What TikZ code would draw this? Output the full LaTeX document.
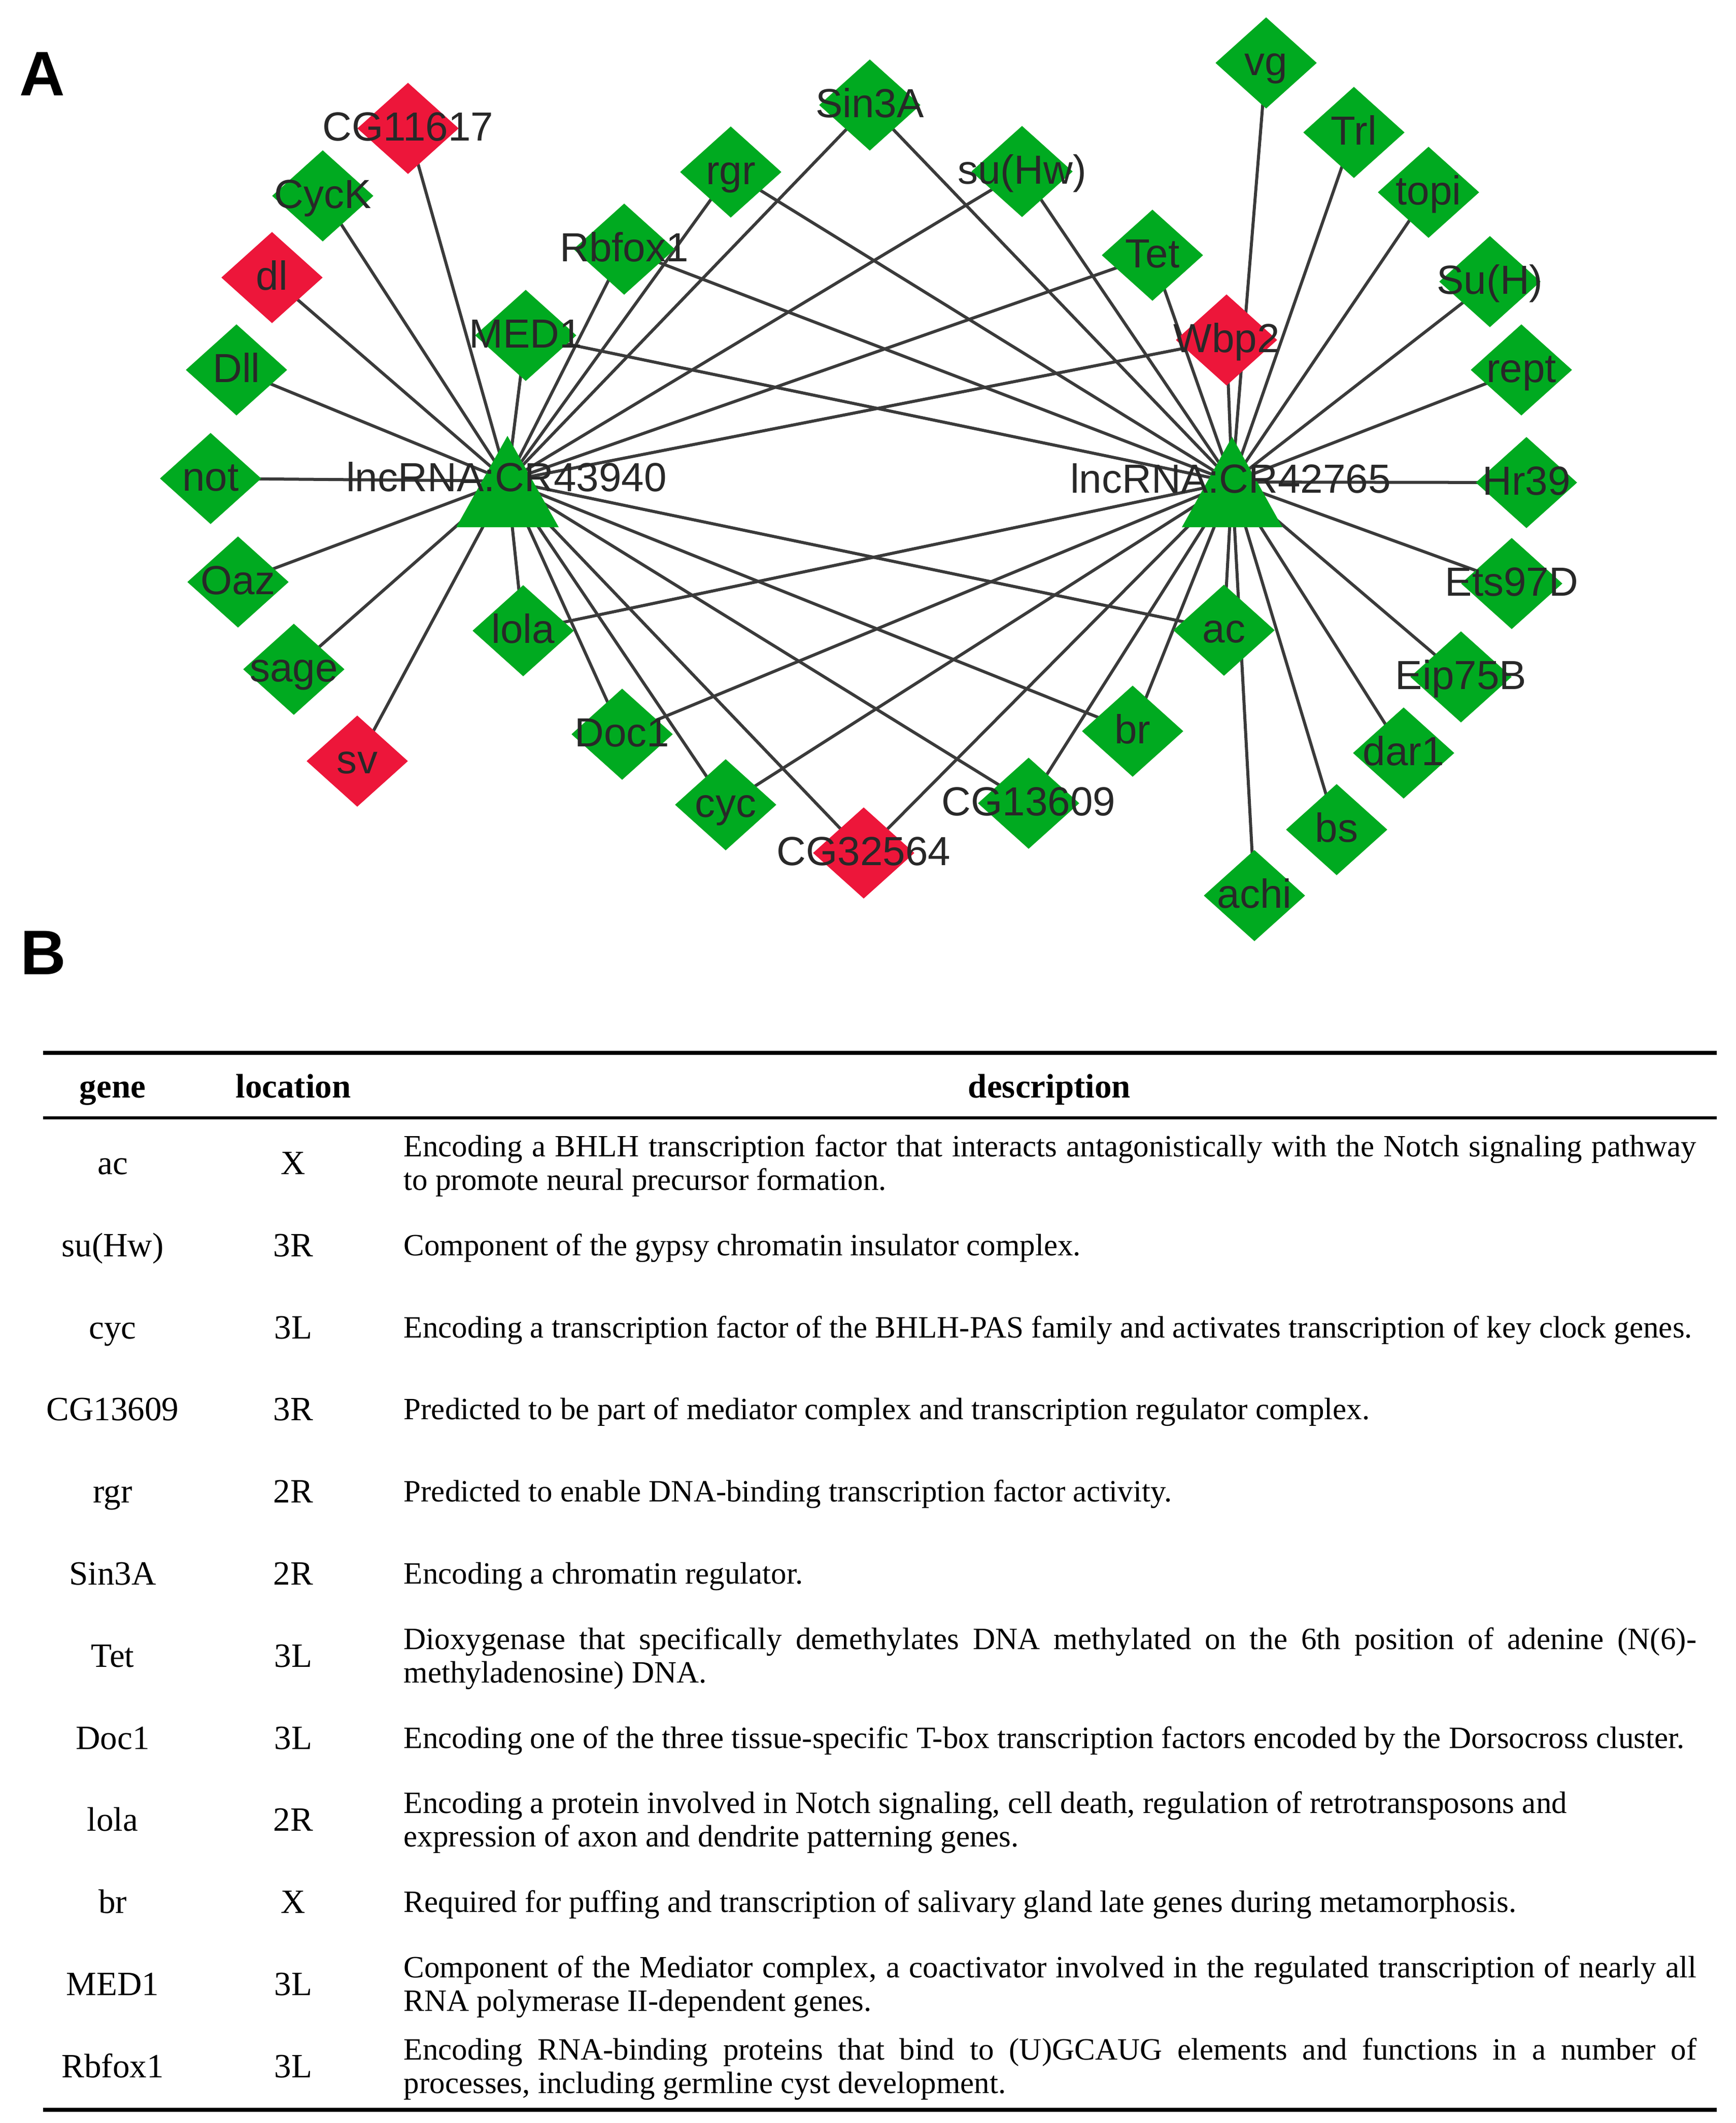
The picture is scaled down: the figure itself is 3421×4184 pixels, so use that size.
\documentclass[tikz,border=0pt]{standalone}
\usepackage{fontspec}
\setmainfont{Liberation Serif}
\newfontfamily\arialf{Liberation Sans}
\usetikzlibrary{shapes.geometric,backgrounds}
\definecolor{ngreen}{RGB}{0,170,32}
\definecolor{nred}{RGB}{237,22,58}
\definecolor{edgec}{RGB}{58,58,58}
\definecolor{labc}{RGB}{40,40,40}
\tikzset{
  gd/.style={diamond, fill=ngreen, draw=none, minimum width=2cm, minimum height=1.8cm, inner sep=0pt},
  rd/.style={gd, fill=nred},
  lab/.style={font=\arialf\fontsize{22.76}{27}\selectfont, text=labc, inner sep=0pt, text height=0.68cm, text depth=0.2cm},
  edge/.style={draw=edgec, line width=0.06cm},
  panel/.style={font=\arialf\bfseries\fontsize{35.3}{40}\selectfont, inner sep=0pt, anchor=base west, text=black},
  hd/.style={font=\bfseries\fontsize{19.06}{23}\selectfont, inner sep=0pt, anchor=base},
  gc/.style={font=\fontsize{19.06}{23}\selectfont, inner sep=0pt, anchor=base},
  dc/.style={font=\fontsize{17.36}{21}\selectfont, inner sep=0pt, anchor=base west},
  rule/.style={draw=black}
}
\newcommand\jline[1]{\makebox[25.46cm][s]{#1}}
\begin{document}
\begin{tikzpicture}[x=0.01cm, y=-0.01cm]
\useasboundingbox (0,0) rectangle (3421,4184);
% panel labels
\node[panel] (pA) at (38,188) {A};
\node[panel] (pB) at (40,1920) {B};
% network nodes
\foreach \nm/\x/\y/\st in {CGa/804/253/rd, CycK/636/386/gd, dl/536/547/rd, Dll/466/729/gd, not/415/943/gd, Oaz/469/1147/gd, sage/579/1319/gd, sv/704/1500/rd, MED/1036/661/gd, Rbf/1230/491/gd, rgr/1440/339/gd, Sin/1714/207/gd, suHw/2014/338/gd, Tet/2271/503/gd, Wbp/2417/670/rd, vg/2495/124/gd, Trl/2668/261/gd, topi/2815/379/gd, SuH/2936/555/gd, rept/2998/729/gd, Hr/3008/951/gd, Ets/2979/1150/gd, Eip/2879/1334/gd, dar/2766/1484/gd, bs/2634/1635/gd, achi/2472/1765/gd, ac/2412/1242/gd, br/2232/1441/gd, CGb/2027/1583/gd, CGc/1702/1681/rd, cyc/1430/1586/gd, Doc/1226/1447/gd, lola/1031/1243/gd}
  {\node[\st] (\nm) at (\x,\y) {};}
% hubs
\node[coordinate] (L) at (1000,948) {};
\node[coordinate] (R) at (2428,950) {};
\fill[ngreen] (1000,859) -- (899,1039) -- (1101,1039) -- cycle;
\fill[ngreen] (2428,861) -- (2329,1039) -- (2527,1039) -- cycle;
% edges
\begin{pgfonlayer}{background}
\fill[white] (0,0) rectangle (3421,4184);
\foreach \a in {CGa,CycK,dl,Dll,not,Oaz,sage,sv,MED,Rbf,rgr,Sin,suHw,Tet,Wbp,lola,Doc,cyc,CGc,CGb,br,ac}
  {\draw[edge] (L) -- (\a.center);}
\foreach \a in {vg,Trl,topi,SuH,rept,Hr,Ets,Eip,dar,bs,achi,ac,br,CGb,CGc,cyc,Doc,lola,Wbp,Tet,suHw,Sin,rgr,Rbf,MED}
  {\draw[edge] (R) -- (\a.center);}
\end{pgfonlayer}
% labels
\foreach \nm/\t in {CGa/CG11617, CycK/CycK, dl/dl, Dll/Dll, not/not, Oaz/Oaz, sage/sage, sv/sv, MED/MED1, Rbf/Rbfox1, rgr/rgr, Sin/Sin3A, suHw/su(Hw), Tet/Tet, Wbp/Wbp2, vg/vg, Trl/Trl, topi/topi, SuH/Su(H), rept/rept, Hr/Hr39, Ets/Ets97D, Eip/Eip75B, dar/dar1, bs/bs, achi/achi, ac/ac, br/br, CGb/CG13609, CGc/CG32564, cyc/cyc, Doc/Doc1, lola/lola}
  {\node[lab] (\nm-t) at (\nm) {\t};}
\node[lab] (Lt) at (998,944) {lncRNA:CR43940};
\node[lab] (Rt) at (2425,947) {lncRNA:CR42765};
% table rules
\coordinate (t1) at (85,2075); \coordinate (t2) at (3383,2075);
\coordinate (h1) at (85,2203); \coordinate (h2) at (3383,2203);
\coordinate (b1) at (85,4158); \coordinate (b2) at (3383,4158);
\draw[rule, line width=0.08cm] (t1) -- (t2);
\draw[rule, line width=0.06cm] (h1) -- (h2);
\draw[rule, line width=0.08cm] (b1) -- (b2);
% header
\node[hd] (hg) at (222,2163) {gene};
\node[hd] (hl) at (578,2163) {location};
\node[hd] (hdsc) at (2068,2163) {description};
% rows
\node[gc] (g1) at (222,2314) {ac}; \node[gc] (l1) at (578,2314) {X};
\node[dc] (d1a) at (795,2279) {\jline{Encoding a BHLH transcription factor that interacts antagonistically with the Notch signaling pathway}};
\node[dc] (d1b) at (795,2345) {to promote neural precursor formation.};
\node[gc] (g2) at (222,2476) {su(Hw)}; \node[gc] (l2) at (578,2476) {3R};
\node[dc] (d2) at (795,2474) {Component of the gypsy chromatin insulator complex.};
\node[gc] (g3) at (222,2638) {cyc}; \node[gc] (l3) at (578,2638) {3L};
\node[dc] (d3) at (795,2636) {Encoding a transcription factor of the BHLH-PAS family and activates transcription of key clock genes.};
\node[gc] (g4) at (222,2799) {CG13609}; \node[gc] (l4) at (578,2799) {3R};
\node[dc] (d4) at (795,2797) {Predicted to be part of mediator complex and transcription regulator complex.};
\node[gc] (g5) at (222,2961) {rgr}; \node[gc] (l5) at (578,2961) {2R};
\node[dc] (d5) at (795,2959) {Predicted to enable DNA-binding transcription factor activity.};
\node[gc] (g6) at (222,3123) {Sin3A}; \node[gc] (l6) at (578,3123) {2R};
\node[dc] (d6) at (795,3121) {Encoding a chromatin regulator.};
\node[gc] (g7) at (222,3285) {Tet}; \node[gc] (l7) at (578,3285) {3L};
\node[dc] (d7a) at (795,3250) {\jline{Dioxygenase that specifically demethylates DNA methylated on the 6th position of adenine (N(6)-}};
\node[dc] (d7b) at (795,3316) {methyladenosine) DNA.};
\node[gc] (g8) at (222,3447) {Doc1}; \node[gc] (l8) at (578,3447) {3L};
\node[dc] (d8) at (795,3445) {Encoding one of the three tissue-specific T-box transcription factors encoded by the Dorsocross cluster.};
\node[gc] (g9) at (222,3608) {lola}; \node[gc] (l9) at (578,3608) {2R};
\node[dc] (d9a) at (795,3573) {Encoding a protein involved in Notch signaling, cell death, regulation of retrotransposons and};
\node[dc] (d9b) at (795,3639) {expression of axon and dendrite patterning genes.};
\node[gc] (g10) at (222,3770) {br}; \node[gc] (l10) at (578,3770) {X};
\node[dc] (d10) at (795,3768) {Required for puffing and transcription of salivary gland late genes during metamorphosis.};
\node[gc] (g11) at (222,3932) {MED1}; \node[gc] (l11) at (578,3932) {3L};
\node[dc] (d11a) at (795,3897) {\jline{Component of the Mediator complex, a coactivator involved in the regulated transcription of nearly all}};
\node[dc] (d11b) at (795,3963) {RNA polymerase II-dependent genes.};
\node[gc] (g12) at (222,4094) {Rbfox1}; \node[gc] (l12) at (578,4094) {3L};
\node[dc] (d12a) at (795,4059) {\jline{Encoding RNA-binding proteins that bind to (U)GCAUG elements and functions in a number of}};
\node[dc] (d12b) at (795,4125) {processes, including germline cyst development.};
\end{tikzpicture}
\end{document}
